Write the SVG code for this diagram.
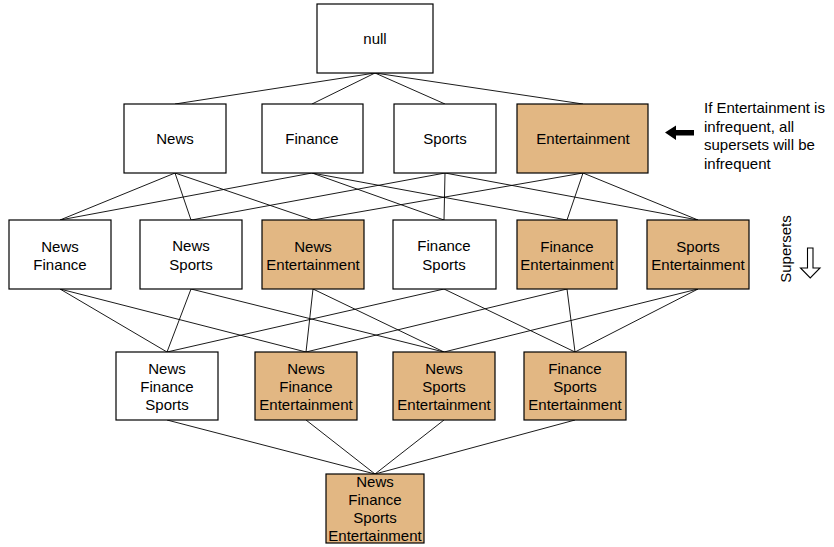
<svg xmlns="http://www.w3.org/2000/svg" width="834" height="547" viewBox="0 0 834 547">
<style>
.box{fill:#ffffff;stroke:#000000;stroke-width:1.2}
.inf{fill:#e2b783;stroke:#000000;stroke-width:1.2}
.lbl{font-family:"Liberation Sans",Arial,sans-serif;font-size:15px;fill:#000000;text-anchor:middle}
.note{font-family:"Liberation Sans",Arial,sans-serif;font-size:15px;fill:#000000}
#connectors line{stroke:#000000;stroke-width:0.9}
</style>
<rect width="834" height="547" fill="#ffffff"/>
<g id="connectors">
<line x1="375" y1="73" x2="175" y2="104"/>
<line x1="375" y1="73" x2="312" y2="104"/>
<line x1="375" y1="73" x2="445" y2="104"/>
<line x1="375" y1="73" x2="583" y2="104"/>
<line x1="175" y1="173" x2="60" y2="220"/>
<line x1="175" y1="173" x2="191" y2="220"/>
<line x1="175" y1="173" x2="313" y2="220"/>
<line x1="312" y1="173" x2="60" y2="220"/>
<line x1="312" y1="173" x2="444" y2="220"/>
<line x1="312" y1="173" x2="567" y2="220"/>
<line x1="445" y1="173" x2="191" y2="220"/>
<line x1="445" y1="173" x2="444" y2="220"/>
<line x1="445" y1="173" x2="698" y2="220"/>
<line x1="583" y1="173" x2="313" y2="220"/>
<line x1="583" y1="173" x2="567" y2="220"/>
<line x1="583" y1="173" x2="698" y2="220"/>
<line x1="60" y1="289" x2="167" y2="352"/>
<line x1="60" y1="289" x2="306" y2="352"/>
<line x1="191" y1="289" x2="167" y2="352"/>
<line x1="191" y1="289" x2="444" y2="352"/>
<line x1="313" y1="289" x2="306" y2="352"/>
<line x1="313" y1="289" x2="444" y2="352"/>
<line x1="444" y1="289" x2="167" y2="352"/>
<line x1="444" y1="289" x2="575" y2="352"/>
<line x1="567" y1="289" x2="306" y2="352"/>
<line x1="567" y1="289" x2="575" y2="352"/>
<line x1="698" y1="289" x2="444" y2="352"/>
<line x1="698" y1="289" x2="575" y2="352"/>
<line x1="167" y1="420" x2="375" y2="474"/>
<line x1="306" y1="420" x2="375" y2="474"/>
<line x1="444" y1="420" x2="375" y2="474"/>
<line x1="575" y1="420" x2="375" y2="474"/>
</g>
<g id="n-null"><rect class="box" x="317" y="4" width="116" height="69"/><text class="lbl" x="375" y="44">null</text></g>
<g id="n-news"><rect class="box" x="124" y="104" width="102" height="69"/><text class="lbl" x="175" y="144">News</text></g>
<g id="n-finance"><rect class="box" x="262" y="104" width="101" height="69"/><text class="lbl" x="312" y="144">Finance</text></g>
<g id="n-sports"><rect class="box" x="394" y="104" width="102" height="69"/><text class="lbl" x="445" y="144">Sports</text></g>
<g id="n-entertainment"><rect class="inf" x="517" y="104" width="131" height="69"/><text class="lbl" x="583" y="144">Entertainment</text></g>
<g id="n-news-finance"><rect class="box" x="9" y="220" width="102" height="69"/><text class="lbl" x="60" y="252">News</text><text class="lbl" x="60" y="270">Finance</text></g>
<g id="n-news-sports"><rect class="box" x="140" y="220" width="102" height="69"/><text class="lbl" x="191" y="251">News</text><text class="lbl" x="191" y="270">Sports</text></g>
<g id="n-news-entertainment"><rect class="inf" x="262" y="220" width="102" height="69"/><text class="lbl" x="313" y="252">News</text><text class="lbl" x="313" y="270">Entertainment</text></g>
<g id="n-finance-sports"><rect class="box" x="393" y="220" width="103" height="69"/><text class="lbl" x="444" y="251">Finance</text><text class="lbl" x="444" y="270">Sports</text></g>
<g id="n-finance-entertainment"><rect class="inf" x="517" y="220" width="100" height="69"/><text class="lbl" x="567" y="252">Finance</text><text class="lbl" x="567" y="270">Entertainment</text></g>
<g id="n-sports-entertainment"><rect class="inf" x="647" y="220" width="102" height="69"/><text class="lbl" x="698" y="252">Sports</text><text class="lbl" x="698" y="270">Entertainment</text></g>
<g id="n-news-finance-sports"><rect class="box" x="116" y="352" width="102" height="68"/><text class="lbl" x="167" y="374">News</text><text class="lbl" x="167" y="392">Finance</text><text class="lbl" x="167" y="410">Sports</text></g>
<g id="n-news-finance-entertainment"><rect class="inf" x="255" y="352" width="102" height="68"/><text class="lbl" x="306" y="374">News</text><text class="lbl" x="306" y="392">Finance</text><text class="lbl" x="306" y="410">Entertainment</text></g>
<g id="n-news-sports-entertainment"><rect class="inf" x="393" y="352" width="102" height="68"/><text class="lbl" x="444" y="374">News</text><text class="lbl" x="444" y="392">Sports</text><text class="lbl" x="444" y="410">Entertainment</text></g>
<g id="n-finance-sports-entertainment"><rect class="inf" x="524" y="352" width="102" height="68"/><text class="lbl" x="575" y="374">Finance</text><text class="lbl" x="575" y="392">Sports</text><text class="lbl" x="575" y="410">Entertainment</text></g>
<g id="n-all"><rect class="inf" x="326" y="474" width="98" height="69"/><text class="lbl" x="375" y="487">News</text><text class="lbl" x="375" y="505">Finance</text><text class="lbl" x="375" y="523">Sports</text><text class="lbl" x="375" y="541">Entertainment</text></g>
<g id="annotation">
<polygon points="665,132.5 676,125.5 676,130 694,130 694,135.5 676,135.5 676,140" fill="#000000"/>
<text class="note" x="704" y="113">If Entertainment is</text>
<text class="note" x="704" y="131.5">infrequent, all</text>
<text class="note" x="704" y="150">supersets will be</text>
<text class="note" x="704" y="168.5">infrequent</text>
</g>
<g id="supersets">
<text class="lbl" transform="translate(791,249) rotate(-90)">Supersets</text>
<polygon points="807.5,248 813,248 813,268 820,268 810.25,278 800.5,268 807.5,268" fill="#ffffff" stroke="#000000" stroke-width="1.1"/>
</g>
</svg>
